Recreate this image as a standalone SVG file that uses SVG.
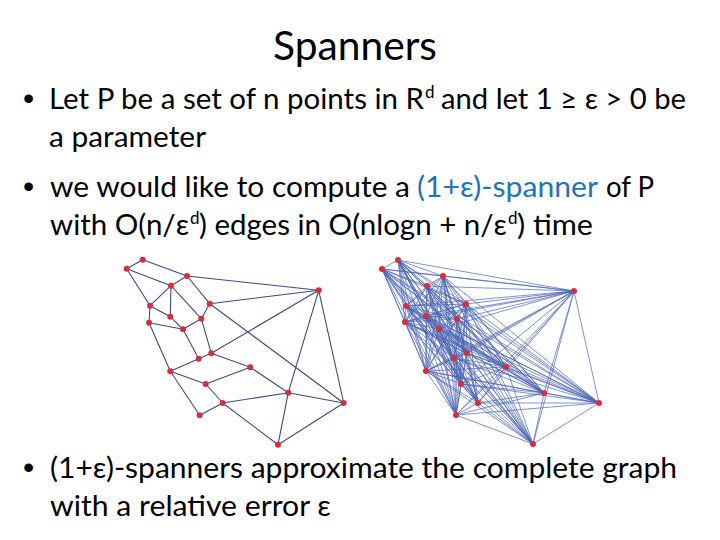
<svg xmlns="http://www.w3.org/2000/svg" width="720" height="540" viewBox="0 0 720 540">
<style>
text{font-family:Lato,"Liberation Sans",sans-serif;fill:#000}
.t{font-size:40px}
.b{font-size:29px}
.sup{font-size:17px}
.bul{font-family:"Liberation Sans",Arial,sans-serif;font-size:32px}
.blue{fill:#2573b0}
.le{stroke:#3d4b7e;stroke-width:1.1;fill:none}
.re{stroke:#4b64b4;stroke-width:0.7;fill:none}
.pt{fill:#d62f3c}
</style>
<rect width="720" height="540" fill="#fff"/>
<g id="title"><text class="t" x="273" y="60" textLength="164" lengthAdjust="spacingAndGlyphs">Spanners</text></g>
<g id="body">
<text class="bul" x="23" y="109">•</text>
<text class="b" x="49" y="109" textLength="375" lengthAdjust="spacingAndGlyphs">Let P be a set of n points in R</text>
<text class="sup" x="425" y="98">d</text>
<text class="b" x="441" y="109" textLength="245" lengthAdjust="spacingAndGlyphs">and let 1 ≥ ε &gt; 0 be</text>
<text class="b" x="49" y="147" textLength="157" lengthAdjust="spacingAndGlyphs">a parameter</text>
<text class="bul" x="23" y="197">•</text>
<text class="b" x="50" y="197" textLength="360" lengthAdjust="spacingAndGlyphs">we would like to compute a</text>
<text class="b blue" x="417" y="197" textLength="181" lengthAdjust="spacingAndGlyphs">(1+ε)-spanner</text>
<text class="b" x="606" y="197" textLength="48" lengthAdjust="spacingAndGlyphs">of P</text>
<text class="b" x="50" y="235" textLength="139" lengthAdjust="spacingAndGlyphs">with O(n/ε</text>
<text class="sup" x="190" y="224">d</text>
<text class="b" x="199" y="235" textLength="308" lengthAdjust="spacingAndGlyphs">) edges in O(nlogn + n/ε</text>
<text class="sup" x="508" y="224">d</text>
<text class="b" x="517" y="235" textLength="76" lengthAdjust="spacingAndGlyphs">) time</text>
<text class="bul" x="23" y="478">•</text>
<text class="b" x="50" y="478" textLength="627" lengthAdjust="spacingAndGlyphs">(1+ε)-spanners approximate the complete graph</text>
<text class="b" x="50" y="516" textLength="281" lengthAdjust="spacingAndGlyphs">with a relative error ε</text>
</g>
<g id="connectors">
<path class="le" d="M142.7 259.7L126.7 268.7M142.7 259.7L187 276M126.7 268.7L171 285.7M126.7 268.7L150 305.7M187 276L171 285.7M187 276L209.7 303.7M187 276L318.7 290.3M171 285.7L150 305.7M171 285.7L170.3 316.7M171 285.7L201.3 318.7M209.7 303.7L201.3 318.7M209.7 303.7L318.7 290.3M209.7 303.7L343.7 403M150 305.7L170.3 316.7M150 305.7L149 322.7M170.3 316.7L183 329.3M201.3 318.7L183 329.3M201.3 318.7L211.3 353.3M149 322.7L183 329.3M149 322.7L170.3 371.3M183 329.3L198.7 358.7M198.7 358.7L211.3 353.3M198.7 358.7L170.3 371.3M211.3 353.3L318.7 290.3M211.3 353.3L250.3 367.3M170.3 371.3L205.7 384M170.3 371.3L199.7 415.3M205.7 384L250.3 367.3M205.7 384L222.7 403M222.7 403L199.7 415.3M222.7 403L288.3 392.7M222.7 403L278 444.7M250.3 367.3L288.3 392.7M288.3 392.7L343.7 403M288.3 392.7L318.7 290.3M288.3 392.7L278 444.7M318.7 290.3L343.7 403M278 444.7L343.7 403"/>
<path class="re" d="M398 260L382 269M398 260L443 276M398 260L427 286M398 260L466 304M398 260L406 306M398 260L426 316M398 260L457 319M398 260L405 322M398 260L439 329M398 260L454 358M398 260L467 353M398 260L426 371M398 260L461 384M398 260L478 403M398 260L456 415M398 260L574 291M398 260L506 367M398 260L544 393M398 260L599 403M398 260L533 444"/>
<path class="re" d="M382 269L443 276M382 269L427 286M382 269L466 304M382 269L406 306M382 269L426 316M382 269L457 319M382 269L405 322M382 269L439 329M382 269L454 358M382 269L467 353M382 269L426 371M382 269L461 384M382 269L478 403M382 269L456 415M382 269L574 291M382 269L506 367M382 269L544 393M382 269L599 403M382 269L533 444"/>
<path class="re" d="M443 276L427 286M443 276L466 304M443 276L406 306M443 276L426 316M443 276L457 319M443 276L405 322M443 276L439 329M443 276L454 358M443 276L467 353M443 276L426 371M443 276L461 384M443 276L478 403M443 276L456 415M443 276L574 291M443 276L506 367M443 276L544 393M443 276L599 403M443 276L533 444"/>
<path class="re" d="M427 286L466 304M427 286L406 306M427 286L426 316M427 286L457 319M427 286L405 322M427 286L439 329M427 286L454 358M427 286L467 353M427 286L426 371M427 286L461 384M427 286L478 403M427 286L456 415M427 286L574 291M427 286L506 367M427 286L544 393M427 286L599 403M427 286L533 444"/>
<path class="re" d="M466 304L406 306M466 304L426 316M466 304L457 319M466 304L405 322M466 304L439 329M466 304L454 358M466 304L467 353M466 304L426 371M466 304L461 384M466 304L478 403M466 304L456 415M466 304L574 291M466 304L506 367M466 304L544 393M466 304L599 403M466 304L533 444"/>
<path class="re" d="M406 306L426 316M406 306L457 319M406 306L405 322M406 306L439 329M406 306L454 358M406 306L467 353M406 306L426 371M406 306L461 384M406 306L478 403M406 306L456 415M406 306L574 291M406 306L506 367M406 306L544 393M406 306L599 403M406 306L533 444"/>
<path class="re" d="M426 316L457 319M426 316L405 322M426 316L439 329M426 316L454 358M426 316L467 353M426 316L426 371M426 316L461 384M426 316L478 403M426 316L456 415M426 316L574 291M426 316L506 367M426 316L544 393M426 316L599 403M426 316L533 444"/>
<path class="re" d="M457 319L405 322M457 319L439 329M457 319L454 358M457 319L467 353M457 319L426 371M457 319L461 384M457 319L478 403M457 319L456 415M457 319L574 291M457 319L506 367M457 319L544 393M457 319L599 403M457 319L533 444"/>
<path class="re" d="M405 322L439 329M405 322L454 358M405 322L467 353M405 322L426 371M405 322L461 384M405 322L478 403M405 322L456 415M405 322L574 291M405 322L506 367M405 322L544 393M405 322L599 403M405 322L533 444"/>
<path class="re" d="M439 329L454 358M439 329L467 353M439 329L426 371M439 329L461 384M439 329L478 403M439 329L456 415M439 329L574 291M439 329L506 367M439 329L544 393M439 329L599 403M439 329L533 444"/>
<path class="re" d="M454 358L467 353M454 358L426 371M454 358L461 384M454 358L478 403M454 358L456 415M454 358L574 291M454 358L506 367M454 358L544 393M454 358L599 403M454 358L533 444"/>
<path class="re" d="M467 353L426 371M467 353L461 384M467 353L478 403M467 353L456 415M467 353L574 291M467 353L506 367M467 353L544 393M467 353L599 403M467 353L533 444"/>
<path class="re" d="M426 371L461 384M426 371L478 403M426 371L456 415M426 371L574 291M426 371L506 367M426 371L544 393M426 371L599 403M426 371L533 444"/>
<path class="re" d="M461 384L478 403M461 384L456 415M461 384L574 291M461 384L506 367M461 384L544 393M461 384L599 403M461 384L533 444"/>
<path class="re" d="M478 403L456 415M478 403L574 291M478 403L506 367M478 403L544 393M478 403L599 403M478 403L533 444"/>
<path class="re" d="M456 415L574 291M456 415L506 367M456 415L544 393M456 415L599 403M456 415L533 444"/>
<path class="re" d="M574 291L506 367M574 291L544 393M574 291L599 403M574 291L533 444M506 367L544 393M506 367L599 403M506 367L533 444M544 393L599 403M544 393L533 444M599 403L533 444"/>
</g>
<g id="left-nodes">
<g id="LA"><circle class="pt" cx="142.7" cy="259.7" r="3"/></g>
<g id="LB"><circle class="pt" cx="126.7" cy="268.7" r="3"/></g>
<g id="LC"><circle class="pt" cx="187" cy="276" r="3"/></g>
<g id="LD"><circle class="pt" cx="171" cy="285.7" r="3"/></g>
<g id="LE"><circle class="pt" cx="209.7" cy="303.7" r="3"/></g>
<g id="LF"><circle class="pt" cx="150" cy="305.7" r="3"/></g>
<g id="LG"><circle class="pt" cx="170.3" cy="316.7" r="3"/></g>
<g id="LH"><circle class="pt" cx="201.3" cy="318.7" r="3"/></g>
<g id="LI"><circle class="pt" cx="149" cy="322.7" r="3"/></g>
<g id="LJ"><circle class="pt" cx="183" cy="329.3" r="3"/></g>
<g id="LK"><circle class="pt" cx="198.7" cy="358.7" r="3"/></g>
<g id="LL"><circle class="pt" cx="211.3" cy="353.3" r="3"/></g>
<g id="LM"><circle class="pt" cx="170.3" cy="371.3" r="3"/></g>
<g id="LN"><circle class="pt" cx="205.7" cy="384" r="3"/></g>
<g id="LO"><circle class="pt" cx="222.7" cy="403" r="3"/></g>
<g id="LP"><circle class="pt" cx="199.7" cy="415.3" r="3"/></g>
<g id="LQ"><circle class="pt" cx="318.7" cy="290.3" r="3"/></g>
<g id="LR"><circle class="pt" cx="250.3" cy="367.3" r="3"/></g>
<g id="LS"><circle class="pt" cx="288.3" cy="392.7" r="3"/></g>
<g id="LT"><circle class="pt" cx="343.7" cy="403" r="3"/></g>
<g id="LU"><circle class="pt" cx="278" cy="444.7" r="3"/></g>
</g>
<g id="right-nodes">
<g id="Ra"><circle class="pt" cx="398" cy="260" r="3"/></g>
<g id="Rb"><circle class="pt" cx="382" cy="269" r="3"/></g>
<g id="Rc"><circle class="pt" cx="443" cy="276" r="3"/></g>
<g id="Rd"><circle class="pt" cx="427" cy="286" r="3"/></g>
<g id="Re"><circle class="pt" cx="466" cy="304" r="3"/></g>
<g id="Rf"><circle class="pt" cx="406" cy="306" r="3"/></g>
<g id="Rg"><circle class="pt" cx="426" cy="316" r="3"/></g>
<g id="Rh"><circle class="pt" cx="457" cy="319" r="3"/></g>
<g id="Ri"><circle class="pt" cx="405" cy="322" r="3"/></g>
<g id="Rj"><circle class="pt" cx="439" cy="329" r="3"/></g>
<g id="Rk"><circle class="pt" cx="454" cy="358" r="3"/></g>
<g id="Rl"><circle class="pt" cx="467" cy="353" r="3"/></g>
<g id="Rm"><circle class="pt" cx="426" cy="371" r="3"/></g>
<g id="Rn"><circle class="pt" cx="461" cy="384" r="3"/></g>
<g id="Ro"><circle class="pt" cx="478" cy="403" r="3"/></g>
<g id="Rp"><circle class="pt" cx="456" cy="415" r="3"/></g>
<g id="Rq"><circle class="pt" cx="574" cy="291" r="3"/></g>
<g id="Rr"><circle class="pt" cx="506" cy="367" r="3"/></g>
<g id="Rs"><circle class="pt" cx="544" cy="393" r="3"/></g>
<g id="Rt"><circle class="pt" cx="599" cy="403" r="3"/></g>
<g id="Ru"><circle class="pt" cx="533" cy="444" r="3"/></g>
</g>
</svg>
